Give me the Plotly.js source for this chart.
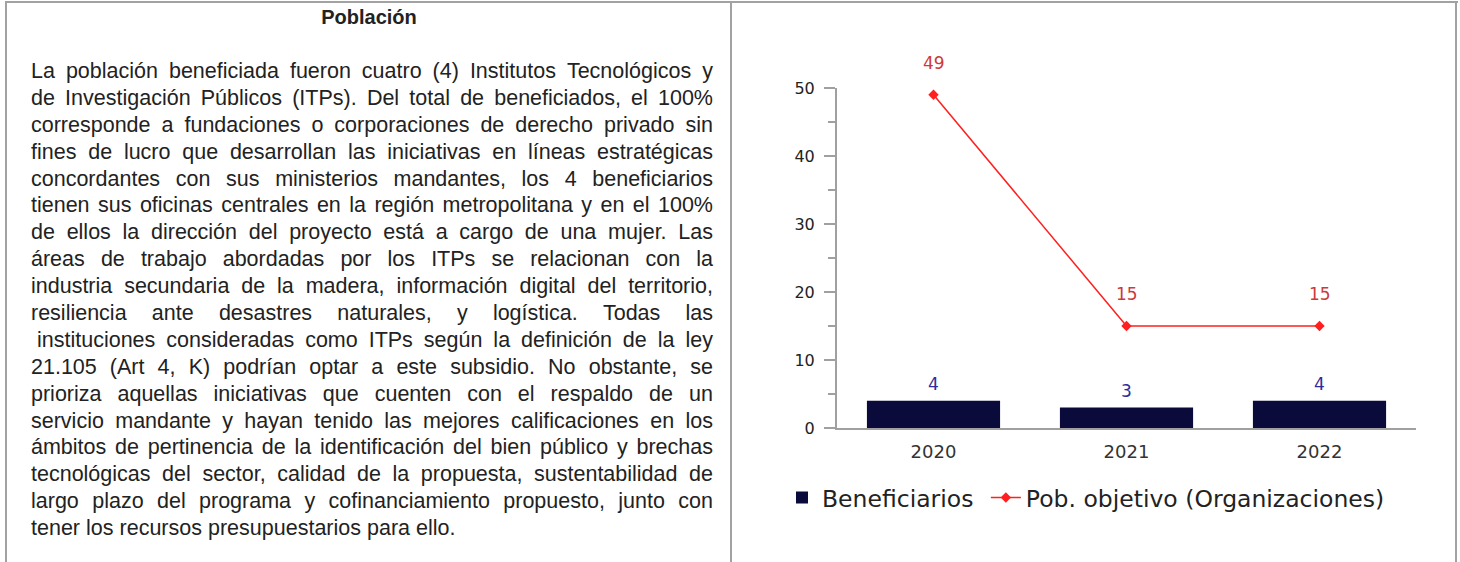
<!DOCTYPE html>
<html>
<head>
<meta charset="utf-8">
<script src="https://cdn.plot.ly/plotly-3.0.1.min.js"></script>
<style>
  html, body { margin:0; padding:0; background:#fff; width:1460px; height:562px; overflow:hidden; }
  .vline { position:absolute; top:1px; width:2px; height:561px; background:#a2a2a2; }
  .hline { position:absolute; top:1px; left:5px; width:1453px; height:2px; background:#a2a2a2; }
  #title { position:absolute; left:7px; width:724px; top:6px; text-align:center;
           font-family:"Liberation Sans", Arial, sans-serif; font-weight:bold; font-size:20px; color:#222; }
  #txt { position:absolute; left:31px; width:682px; top:58px;
         font-family:"Liberation Sans", Arial, sans-serif; font-size:21.5px; color:#222; }
  .ln { display:flex; justify-content:space-between; height:26.9px; line-height:26.9px; white-space:nowrap; }
  .ln.last { justify-content:flex-start; }
  .ln.last span { margin-right:0.28em; }
  #chart { position:absolute; left:733px; top:3px; width:722px; height:559px; }
</style>
</head>
<body>
<div class="hline"></div>
<div class="vline" style="left:5px"></div>
<div class="vline" style="left:730px"></div>
<div class="vline" style="left:1455px"></div>
<div id="title">Población</div>
<div id="txt"></div>
<div id="chart"></div>
<script>
// ---- text content ----
const paragraphLines = [
  "La población beneficiada fueron cuatro (4) Institutos Tecnológicos y",
  "de Investigación Públicos (ITPs). Del total de beneficiados, el 100%",
  "corresponde a fundaciones o corporaciones de derecho privado sin",
  "fines de lucro que desarrollan las iniciativas en líneas estratégicas",
  "concordantes con sus ministerios mandantes, los 4 beneficiarios",
  "tienen sus oficinas centrales en la región metropolitana y en el 100%",
  "de ellos la dirección del proyecto está a cargo de una mujer. Las",
  "áreas de trabajo abordadas por los ITPs se relacionan con la",
  "industria secundaria de la madera, información digital del territorio,",
  "resiliencia ante desastres naturales, y logística. Todas las",
  "instituciones consideradas como ITPs según la definición de la ley",
  "21.105 (Art 4, K) podrían optar a este subsidio. No obstante, se",
  "prioriza aquellas iniciativas que cuenten con el respaldo de un",
  "servicio mandante y hayan tenido las mejores calificaciones en los",
  "ámbitos de pertinencia de la identificación del bien público y brechas",
  "tecnológicas del sector, calidad de la propuesta, sustentabilidad de",
  "largo plazo del programa y cofinanciamiento propuesto, junto con",
  "tener los recursos presupuestarios para ello."
];
const txt = document.getElementById('txt');
paragraphLines.forEach((line, i) => {
  const d = document.createElement('div');
  d.className = 'ln' + (i === paragraphLines.length - 1 ? ' last' : '');
  if (i === 10) d.style.paddingLeft = '6px';
  line.split(' ').forEach(w => { const s = document.createElement('span'); s.textContent = w; d.appendChild(s); });
  txt.appendChild(d);
});

// ---- chart data ----
const years = ["2020", "2021", "2022"];
const beneficiarios = [4, 3, 4];
const pobObjetivo = [49, 15, 15];
const seriesNames = ["Beneficiarios", "Pob. objetivo (Organizaciones)"];

const barColor = "#0b0b3b";
const lineColor = "#ff1f1f";
const font = "DejaVu Sans, Verdana, sans-serif";

const traces = [
  { type:'bar', x:years, y:beneficiarios, name:seriesNames[0] + '\u00a0', width:0.69,
    marker:{color:barColor}, hoverinfo:'none' },
  { type:'scatter', mode:'lines+markers', x:years, y:pobObjetivo, name:seriesNames[1],
    line:{color:lineColor, width:1.5}, marker:{symbol:'diamond', size:8, color:lineColor}, hoverinfo:'none' }
];

const annotations = [];
years.forEach((yr, i) => {
  annotations.push({ x:i, y:beneficiarios[i], xref:'x', yref:'y', text:String(beneficiarios[i]),
    showarrow:false, yshift:17, font:{family:font, size:17, color:'#2c2c9a'} });
  annotations.push({ x:i, y:pobObjetivo[i], xref:'x', yref:'y', text:String(pobObjetivo[i]),
    showarrow:false, yshift:32, font:{family:font, size:17, color:'#cc3a3a'} });
});

const layout = {
  width:722, height:559,
  margin:{l:104, r:39, t:85, b:134},
  paper_bgcolor:'#fff', plot_bgcolor:'#fff',
  showlegend:true,
  legend:{orientation:'h', x:-0.095, xanchor:'left', y:-0.205, yanchor:'middle',
          font:{family:font, size:23.5, color:'#222'}, traceorder:'normal'},
  xaxis:{type:'category', range:[-0.5, 2.5], showline:true, linecolor:'#a0a0a0', linewidth:2,
         ticks:'', showgrid:false, zeroline:false,
         tickfont:{family:font, size:18, color:'#333'}, ticklabelstandoff:6},
  yaxis:{range:[0, 50], tickvals:[0,10,20,30,40,50], showline:true, linecolor:'#a0a0a0', linewidth:2,
         ticks:'outside', ticklen:11, tickwidth:1.5, tickcolor:'#a0a0a0', showgrid:false, zeroline:false,
         minor:{tickvals:[5,15,25,35,45], ticks:'outside', ticklen:7, tickwidth:1.5, tickcolor:'#a0a0a0'},
         tickfont:{family:font, size:16, color:'#222'}, ticklabelstandoff:6},
  annotations:annotations,
  font:{family:font}
};

Plotly.newPlot('chart', traces, layout, {displayModeBar:false, staticPlot:true});
</script>
</body>
</html>
